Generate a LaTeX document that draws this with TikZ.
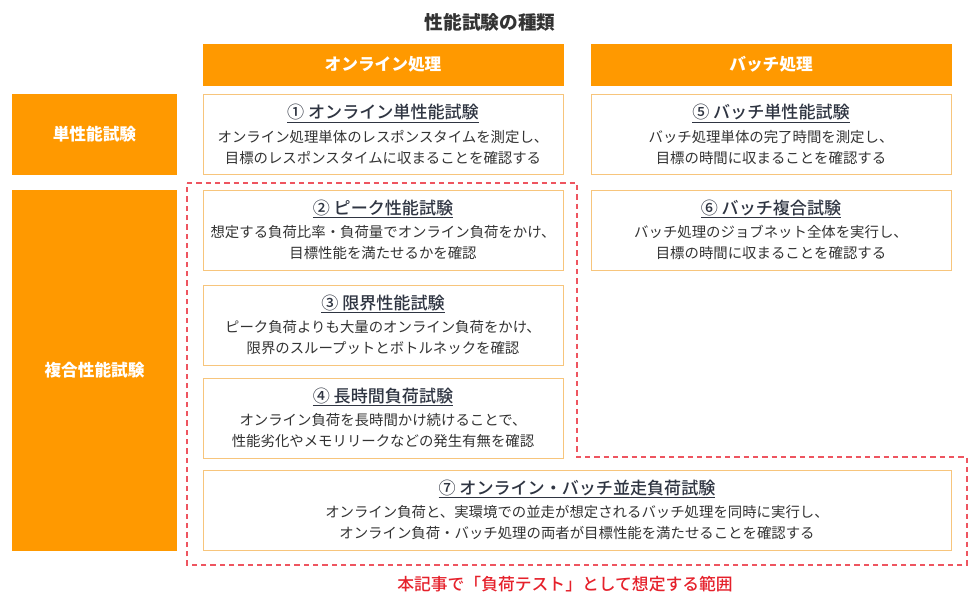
\documentclass[tikz,border=0pt]{standalone}
\usepackage{fontspec}
\setmainfont{Noto Sans CJK JP}
\newfontfamily\medfont{Noto Sans CJK JP}[UprightFont=* Medium]
\usetikzlibrary{positioning}
\definecolor{awsorange}{HTML}{FF9900}
\definecolor{boxline}{HTML}{F7C57C}
\definecolor{scopered}{HTML}{EE5560}
\definecolor{captionred}{HTML}{E5212B}
\definecolor{textgray}{HTML}{333333}
\definecolor{titleslate}{HTML}{2F3542}
\newcommand{\testtitle}[1]{{\fontsize{12.8}{15}\medfont\color{titleslate}\underline{#1}}}

\begin{document}
\begin{tikzpicture}[x=0.75pt, y=-0.75pt,
        header/.style={fill=awsorange, draw=awsorange, text=white, inner sep=0pt, font=\fontsize{12.5}{15}\selectfont\bfseries},
        colhead/.style={header, minimum width=270pt, minimum height=30.75pt},
        rowhead/.style={header, minimum width=123pt},
        testbox/.style={draw=boxline, fill=white, align=center, inner sep=0pt, minimum width=270pt, minimum height=60pt, text=textgray, font=\fontsize{10.8}{15.75}\selectfont},
        widebox/.style={testbox, minimum width=561pt},
        scopeline/.style={draw=scopered, line width=0.9pt, dash pattern=on 4pt off 3pt},
    ]
        \useasboundingbox (0,0) rectangle (979,602);
        \node[font=\fontsize{14}{17}\selectfont\bfseries, text=textgray] (title) at (490,22) {性能試験の種類};

        % Column and row headers
        \node[colhead] (online) at (383,64.5) {オンライン処理};
        \node[colhead] (batch) at (771,64.5) {バッチ処理};
        \node[rowhead, minimum height=60pt] (single) at (94.5,134.5) {単性能試験};
        \node[rowhead, minimum height=270pt] (complex) at (94.5,370) {複合性能試験};

        % Test boxes
        \node[testbox] (t1) at (383,134.5) {\testtitle{① オンライン単性能試験}\\[2pt]オンライン処理単体のレスポンスタイムを測定し、\\目標のレスポンスタイムに収まることを確認する};
        \node[testbox] (t5) at (771,134.5) {\testtitle{⑤ バッチ単性能試験}\\[2pt]バッチ処理単体の完了時間を測定し、\\目標の時間に収まることを確認する};
        \node[testbox] (t2) at (383,230) {\testtitle{② ピーク性能試験}\\[2pt]想定する負荷比率・負荷量でオンライン負荷をかけ、\\目標性能を満たせるかを確認};
        \node[testbox] (t6) at (771,230) {\testtitle{⑥ バッチ複合試験}\\[2pt]バッチ処理のジョブネット全体を実行し、\\目標の時間に収まることを確認する};
        \node[testbox] (t3) at (383,325) {\testtitle{③ 限界性能試験}\\[2pt]ピーク負荷よりも大量のオンライン負荷をかけ、\\限界のスループットとボトルネックを確認};
        \node[testbox] (t4) at (383,418) {\testtitle{④ 長時間負荷試験}\\[2pt]オンライン負荷を長時間かけ続けることで、\\性能劣化やメモリリークなどの発生有無を確認};
        \node[widebox] (t7) at (577,510) {\testtitle{⑦ オンライン・バッチ並走負荷試験}\\[2pt]オンライン負荷と、実環境での並走が想定されるバッチ処理を同時に実行し、\\オンライン負荷・バッチ処理の両者が目標性能を満たせることを確認する};

        % Load test scope (dashed)
        \draw[scopeline] (187,183) -- (577,183) -- (577,457) -- (967,457) -- (967,565) -- (187,565) -- cycle;
        \node[text=captionred, font=\fontsize{12.6}{15}\medfont] (scope) at (565,584) {本記事で「負荷テスト」として想定する範囲};
    \end{tikzpicture}
\end{document}
